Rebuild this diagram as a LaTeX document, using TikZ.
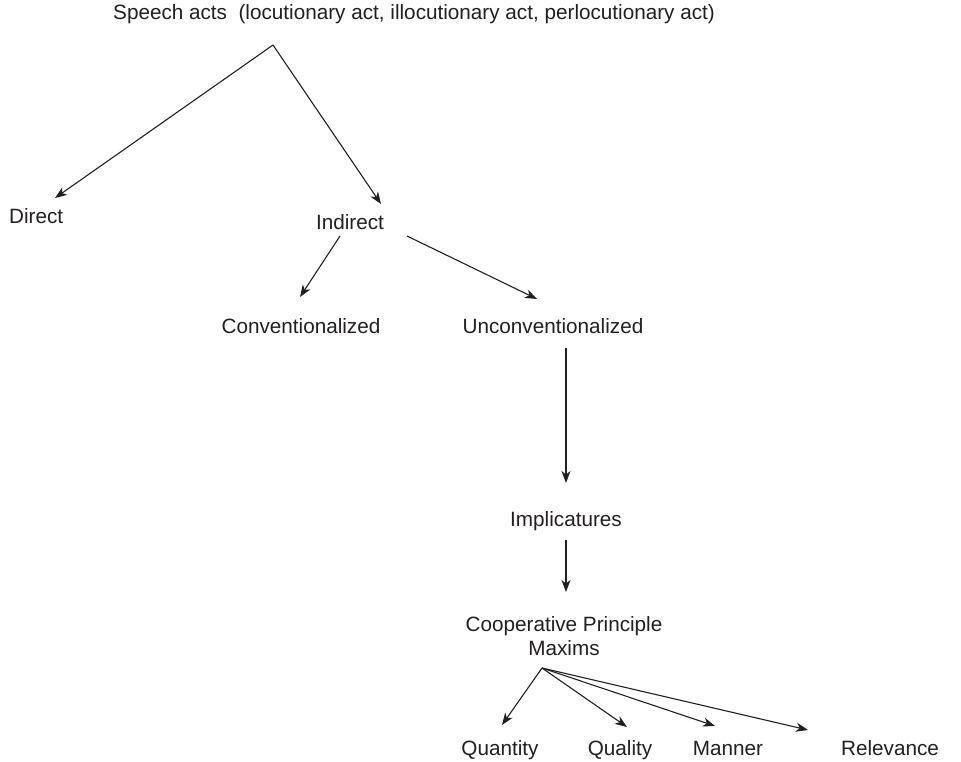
\documentclass[tikz,border=0pt]{standalone}
\usepackage{fontspec}
\setmainfont{Liberation Sans}
\usetikzlibrary{arrows.meta,calc}
\definecolor{ink}{HTML}{231F20}
\begin{document}
\begin{tikzpicture}[x=1pt,y=-1pt,
  lbl/.style={inner sep=0pt,text=ink,font=\fontsize{20.7}{24}\selectfont,align=center},
  arr/.style={draw=ink,line width=1.1pt,-{Stealth[length=12pt,width=9pt,inset=3.5pt]}}]
\useasboundingbox (0,0) rectangle (961,762);
% labels
\node[lbl,anchor=base west] (top) at (113,20) {Speech acts\ \ (locutionary act, illocutionary act, perlocutionary act)};
\node[lbl,anchor=base west] (direct) at (9,223) {Direct};
\node[lbl] (indirect) at (350,222) {Indirect};
\node[lbl] (conv) at (301,326) {Conventionalized};
\node[lbl] (unconv) at (553,326) {Unconventionalized};
\node[lbl] (impl) at (566,521) {Implicatures};
\node[lbl] (coop) at (564,636) {Cooperative Principle\\Maxims};
\node[lbl,anchor=base] (quantity) at (500,755) {Quantity};
\node[lbl,anchor=base] (quality) at (620,755) {Quality};
\node[lbl,anchor=base] (manner) at (728,755) {Manner};
\node[lbl,anchor=base] (relevance) at (890,755) {Relevance};
% branching points
\coordinate (apex) at (273,45);
\coordinate (fan) at (542,668);
% connectors
\draw[arr] (apex) -- ($(direct.base west)+(46,-25)$);
\draw[arr] (apex) -- ($(indirect.center)+(31,-18)$);
\draw[arr] ($(indirect.center)+(-10,14)$) -- ($(conv.center)+(-1,-29)$);
\draw[arr] ($(indirect.center)+(57,14)$) -- ($(unconv.center)+(-16,-27)$);
\draw[arr] ($(unconv.center)+(13,22)$) -- ($(impl.center)+(0,-38)$);
\draw[arr] ($(impl.center)+(0,19)$) -- ($(coop.center)+(2,-44)$);
\draw[arr] (fan) -- ($(quantity.base)+(2,-30)$);
\draw[arr] (fan) -- ($(quality.base)+(7,-28)$);
\draw[arr] (fan) -- ($(manner.base)+(-13,-29)$);
\draw[arr] (fan) -- ($(relevance.base)+(-82,-25)$);
\end{tikzpicture}
\end{document}
